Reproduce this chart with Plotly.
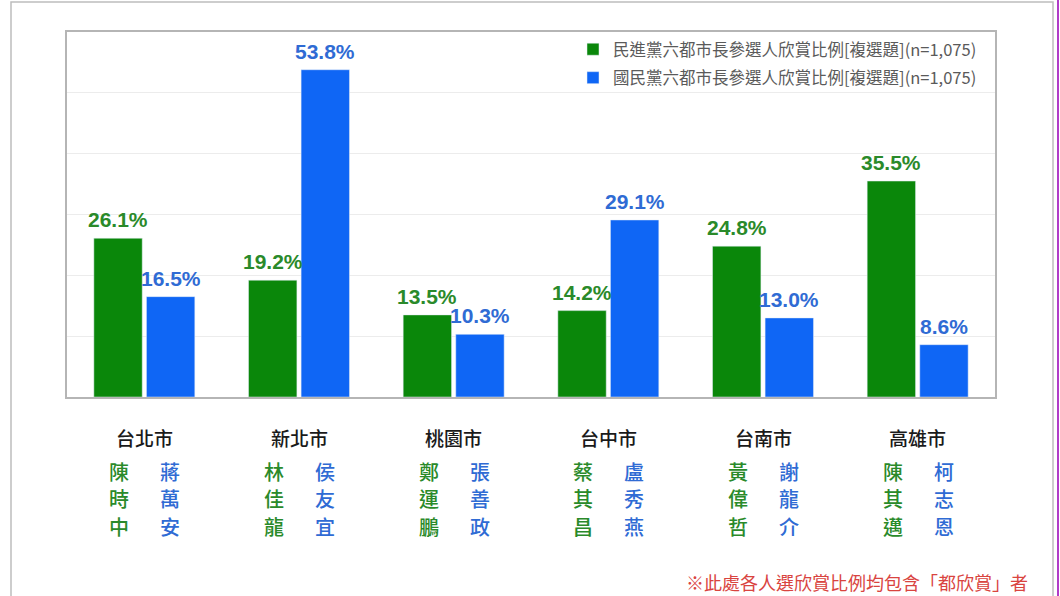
import plotly.graph_objects as go

cities = ["台北市", "新北市", "桃園市", "台中市", "台南市", "高雄市"]
dpp_vals = [26.1, 19.2, 13.5, 14.2, 24.8, 35.5]
kmt_vals = [16.5, 53.8, 10.3, 29.1, 13.0, 8.6]
dpp_names = ["陳時中", "林佳龍", "鄭運鵬", "蔡其昌", "黃偉哲", "陳其邁"]
kmt_names = ["蔣萬安", "侯友宜", "張善政", "盧秀燕", "謝龍介", "柯志恩"]
dpp_label = "民進黨六都市長參選人欣賞比例[複選題](n=1,075)"
kmt_label = "國民黨六都市長參選人欣賞比例[複選題](n=1,075)"
footnote = "※此處各人選欣賞比例均包含「都欣賞」者"

GREEN = "#0a870a"
BLUE = "#0f66f5"
GREEN_T = "#2a8a2a"
BLUE_T = "#2f6bd4"
FONT = "Noto Sans CJK TC"
NUMFONT = "Liberation Sans"

W, H = 1060, 596
ML, MR, MT, MB = 67, 65, 32, 199
PW = W - ML - MR
PH = H - MT - MB

BARGAP = 0.32
SLOT_PX = PW / len(cities) * (1 - BARGAP) / 2  # px width of one bar slot

fig = go.Figure()
fig.add_trace(go.Bar(x=cities, y=dpp_vals, name=dpp_label, marker_color=GREEN,
                     legendgroup="dpp", hoverinfo="skip"))
fig.add_trace(go.Bar(x=cities, y=kmt_vals, name=kmt_label, marker_color=BLUE,
                     legendgroup="kmt", hoverinfo="skip"))

annotations = []
for c, gv, bv, gn, bn in zip(cities, dpp_vals, kmt_vals, dpp_names, kmt_names):
    # value labels
    annotations.append(dict(x=c, y=gv, xref="x", yref="y", text=f"{gv:.1f}%",
                            xshift=-SLOT_PX / 2, yshift=5, yanchor="bottom", showarrow=False,
                            font=dict(family=NUMFONT, size=21, color=GREEN_T, weight="bold")))
    annotations.append(dict(x=c, y=bv, xref="x", yref="y", text=f"{bv:.1f}%",
                            xshift=SLOT_PX / 2, yshift=5, yanchor="bottom", showarrow=False,
                            font=dict(family=NUMFONT, size=21, color=BLUE_T, weight="bold")))
    # city name
    annotations.append(dict(x=c, y=-40 / PH, xref="x", yref="paper", text=c,
                            showarrow=False, yanchor="middle",
                            font=dict(family=FONT, size=19, color="#1a1a1a", weight=500)))
    # candidate names, one character per line
    for i, (gch, bch) in enumerate(zip(gn, bn)):
        yy = -(74 + 27.5 * i) / PH
        annotations.append(dict(x=c, y=yy, xref="x", yref="paper", text=gch,
                                xshift=-25, showarrow=False, yanchor="middle",
                                font=dict(family=FONT, size=20, color=GREEN_T, weight=500)))
        annotations.append(dict(x=c, y=yy, xref="x", yref="paper", text=bch,
                                xshift=26, showarrow=False, yanchor="middle",
                                font=dict(family=FONT, size=20, color=BLUE_T, weight=500)))

annotations.append(dict(x=(1030 - ML) / PW, y=(397 - 582) / PH, xref="paper", yref="paper",
                        text=footnote, xanchor="right", yanchor="middle", showarrow=False,
                        font=dict(family=FONT, size=18, color="#d9443f")))

shapes = [
    dict(type="rect", xref="paper", yref="paper",
         x0=(11 - ML) / PW, x1=(1053 - ML) / PW, y0=-1.2, y1=(397 - 2) / PH,
         line=dict(color="#bdbdbd", width=1.5), layer="below"),
    dict(type="line", xref="paper", yref="paper",
         x0=(1058 - ML) / PW, x1=(1058 - ML) / PW, y0=-1.2, y1=1.2,
         line=dict(color="#b03cc8", width=2)),
]

fig.update_layout(
    width=W, height=H,
    margin=dict(l=ML, r=MR, t=MT, b=MB),
    paper_bgcolor="white", plot_bgcolor="white",
    barmode="group", bargap=BARGAP, bargroupgap=0.08,
    font=dict(family=FONT),
    showlegend=True,
    legend=dict(x=(573 - ML) / PW, y=1.0, xanchor="left", yanchor="top",
                bgcolor="rgba(255,255,255,0)", font=dict(family=FONT, size=16.5, color="#5a5a5a"),
                itemwidth=30, tracegroupgap=4),
    annotations=annotations,
    shapes=shapes,
    xaxis=dict(showticklabels=False, showline=True, mirror=True, linecolor="#b5b5b5", linewidth=1.5,
               showgrid=False, ticks="", fixedrange=True),
    yaxis=dict(range=[0, 60], dtick=10, showticklabels=False, showline=True, mirror=True,
               linecolor="#b5b5b5", linewidth=1.5, gridcolor="#ececec", gridwidth=1,
               zeroline=False, fixedrange=True),
)

fig.write_html("out.html", config={"displayModeBar": False},
               post_script="document.body.style.margin='0px';document.body.style.overflow='hidden';")
